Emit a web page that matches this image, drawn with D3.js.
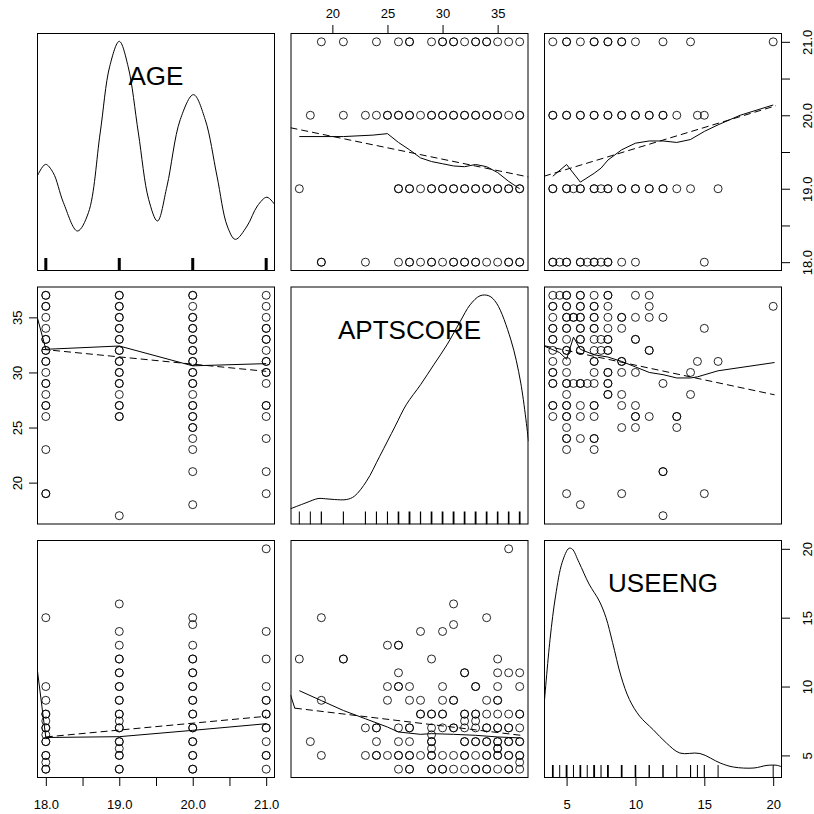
<!DOCTYPE html>
<html>
<head>
<meta charset="utf-8">
<script src="https://cdn.jsdelivr.net/npm/d3@7"></script>
<style>
body { margin: 0; background: #fff; }
text { font-family: "Liberation Sans", Arial, sans-serif; fill: #000; }
</style>
</head>
<body>
<script>
// 1. Data
var varNames = ["AGE", "APTSCORE", "USEENG"];

// [AGE, APTSCORE, count]
var ageApt = [
  [18,19,2],[18,23,1],[18,26,1],[18,27,2],[18,28,1],[18,29,2],[18,30,1],[18,31,2],[18,32,2],[18,33,2],[18,34,1],[18,35,1],[18,36,2],[18,37,2],
  [19,17,1],[19,26,2],[19,27,2],[19,28,1],[19,29,2],[19,30,2],[19,31,2],[19,32,2],[19,33,2],[19,34,2],[19,35,2],[19,36,2],[19,37,2],
  [20,18,1],[20,21,1],[20,23,1],[20,24,1],[20,25,2],[20,26,2],[20,27,2],[20,28,1],[20,29,2],[20,30,2],[20,31,2],[20,32,2],[20,33,2],[20,34,2],[20,35,2],[20,36,1],[20,37,2],
  [21,19,1],[21,21,1],[21,24,1],[21,26,1],[21,27,2],[21,29,1],[21,30,2],[21,31,2],[21,32,1],[21,33,2],[21,34,2],[21,35,1],[21,36,1],[21,37,1]
];

// [AGE, USEENG, count]
var ageUse = [
  [18,4,2],[18,4.5,1],[18,5,2],[18,6,2],[18,6.5,1],[18,7,2],[18,7.5,1],[18,8,2],[18,9,1],[18,10,1],[18,15,1],
  [19,4,2],[19,5,2],[19,5.5,1],[19,6,2],[19,7,2],[19,7.5,1],[19,8,2],[19,9,2],[19,10,2],[19,11,2],[19,12,2],[19,13,1],[19,14,1],[19,16,1],
  [20,4,2],[20,5,2],[20,6,2],[20,7,2],[20,8,2],[20,9,2],[20,10,2],[20,11,2],[20,12,2],[20,13,1],[20,14.5,1],[20,15,1],
  [21,4,1],[21,5,2],[21,6,1],[21,7,2],[21,8,2],[21,9,2],[21,10,1],[21,12,1],[21,14,1],[21,20,1]
];

// [APTSCORE, USEENG, count]
var aptUse = [
  [37,4,1],[37,4.5,1],[37,5,2],[37,6,2],[37,7,1],[37,8,2],[37,10,1],[37,11,1],
  [36,4,2],[36,5,2],[36,6,2],[36,7,2],[36,8,1],[36,11,1],[36,20,1],
  [35,4,1],[35,5,2],[35,5.5,2],[35,6,2],[35,7,2],[35,8,1],[35,9,2],[35,10,1],[35,11,1],[35,12,1],
  [34,4,2],[34,5,2],[34,6,2],[34,7,2],[34,8,1],[34,9,1],[34,15,1],
  [33,4,2],[33,5,1],[33,6,2],[33,7,1],[33,7.5,1],[33,8,2],[33,10,2],
  [32,4,1],[32,5,2],[32,6,2],[32,7,1],[32,7.5,1],[32,8,2],[32,11,2],
  [31,4,1],[31,5,1],[31,7,2],[31,9,2],[31,14.5,1],[31,16,1],
  [30,4,2],[30,5,1],[30,7,1],[30,8,2],[30,9,1],[30,10,1],[30,14,1],
  [29,4,2],[29,5,2],[29,5.5,1],[29,6,2],[29,6.5,1],[29,7,1],[29,8,2],[29,12,1],
  [28,5,1],[28,8,2],[28,9,1],[28,14,1],
  [27,4,2],[27,5,2],[27,6,1],[27,7,2],[27,9,1],[27,10,1],
  [26,4,1],[26,5,2],[26,6,1],[26,7,1],[26,10,2],[26,11,1],[26,13,2],
  [25,5,1],[25,9,1],[25,10,1],[25,13,1],
  [24,5,2],[24,6,1],[24,7,2],
  [23,5,1],[23,7,1],
  [21,12,2],
  [19,5,1],[19,9,1],[19,15,1],
  [18,6,1],
  [17,12,1]
];

// tick values and labels
var ageTicks = [18, 18.5, 19, 19.5, 20, 20.5, 21];
var aptTicks = [20, 25, 30, 35];
var useTicks = [5, 10, 15, 20];

// density curves: [value, relative height in panel]
var ageDens = [[17.873,0.392],[17.995,0.448],[18.1,0.413],[18.24,0.287],[18.43,0.168],[18.58,0.245],[18.74,0.58],[18.87,0.86],[19.0,0.965],[19.12,0.86],[19.26,0.58],[19.4,0.301],[19.52,0.21],[19.65,0.357],[19.83,0.636],[20.01,0.741],[20.17,0.636],[20.33,0.399],[20.47,0.189],[20.58,0.133],[20.74,0.189],[20.88,0.273],[21.01,0.31],[21.13,0.273]];
var aptDens = [[16.19,0.066],[17.6,0.091],[18.7,0.109],[19.4,0.108],[20.2,0.105],[21.3,0.105],[22.0,0.119],[23.1,0.182],[24.3,0.287],[25.7,0.413],[26.7,0.503],[28.0,0.587],[29.2,0.671],[30.4,0.755],[31.6,0.853],[32.5,0.923],[33.4,0.961],[34.2,0.961],[34.9,0.93],[36.2,0.776],[37.1,0.594],[37.8,0.35]];
var useDens = [[3.36,0.302],[3.8,0.583],[4.2,0.765],[4.68,0.906],[5.17,0.965],[5.41,0.962],[5.9,0.906],[6.63,0.815],[7.37,0.744],[7.86,0.674],[8.34,0.569],[8.95,0.428],[9.56,0.33],[10.3,0.26],[11.27,0.204],[12.25,0.147],[13.22,0.105],[14.68,0.103],[16.15,0.063],[17.12,0.046],[18.6,0.042],[19.55,0.053],[20.3,0.053],[20.64,0.046]];

// smoother (solid) and regression (dashed): [x, y]
var smAgeByApt = [[17,19.71],[21,19.71],[23.7,19.73],[25,19.75],[26,19.63],[27,19.53],[28,19.42],[29,19.37],[30,19.34],[31,19.31],[32,19.3],[33,19.33],[34,19.3],[35,19.22],[36,19.1],[37,19.0]];
var rgAgeByApt = [[16.2,19.83],[37.8,19.16]];
var smAgeByUse = [[4,19.17],[5,19.33],[6,19.09],[7,19.21],[7.5,19.28],[8,19.39],[9,19.53],[10,19.62],[11,19.65],[12,19.65],[13,19.63],[14,19.67],[15,19.78],[16,19.87],[17.6,20.0],[20,20.14]];
var rgAgeByUse = [[3.36,19.17],[20.2,20.13]];
var smAptByAge = [[17.88,35.1],[18,32.1],[19,32.4],[20,30.6],[21,30.8]];
var rgAptByAge = [[17.95,32.1],[21,30.1]];
var smAptByUse = [[3.36,32.4],[4.5,31.8],[5,31.2],[5.5,33.2],[6,32.1],[7,31.6],[8,31.4],[9,31.0],[10,30.5],[11,30.0],[12,29.8],[13,29.5],[14,29.5],[14.5,29.6],[16,30.15],[20.1,30.9]];
var rgAptByUse = [[3.36,32.43],[20.1,27.97]];
var smUseByAge = [[17.88,11.4],[18,6.3],[19,6.36],[20,6.82],[21,7.3]];
var rgUseByAge = [[18,6.34],[21,7.84]];
var smUseByApt = [[16.2,9.4],[16.6,8.4],null,[17,9.7],[19,8.98],[21,8.26],[23,7.66],[25,7.06],[26,6.7],[28,6.53],[29,6.58],[31,6.53],[33,6.46],[35,6.34],[37,6.27]];
var rgUseByApt = [[16.6,8.43],[37.1,6.46]];

// 2. Layout
var size = 238, gap = 15.5, padL = 37, padT = 33;
function pos(i) { return i * (size + gap); }

var svg = d3.select("body").append("svg")
  .attr("width", 814)
  .attr("height", 814);

// 3. Scales (R style: range extended by 4%)
function ext(vals) {
  var e = d3.extent(vals), p = (e[1] - e[0]) * 0.04;
  return [e[0] - p, e[1] + p];
}
var varValues = {
  "AGE": ageApt.map(function(d) { return d[0]; }),
  "APTSCORE": ageApt.map(function(d) { return d[1]; }),
  "USEENG": ageUse.map(function(d) { return d[1]; })
};
var xScale = {}, yScale = {};
varNames.forEach(function(v) {
  xScale[v] = d3.scaleLinear().domain(ext(varValues[v])).range([0, size]);
  yScale[v] = d3.scaleLinear().domain(ext(varValues[v])).range([size, 0]);
});
var densScale = d3.scaleLinear().domain([0, 1]).range([size, 0]);

var densities = { "AGE": ageDens, "APTSCORE": aptDens, "USEENG": useDens };
var fits = {
  "AGE|APTSCORE": [smAgeByApt, rgAgeByApt],
  "AGE|USEENG": [smAgeByUse, rgAgeByUse],
  "APTSCORE|AGE": [smAptByAge, rgAptByAge],
  "APTSCORE|USEENG": [smAptByUse, rgAptByUse],
  "USEENG|AGE": [smUseByAge, rgUseByAge],
  "USEENG|APTSCORE": [smUseByApt, rgUseByApt]
};

function swap(arr) { return arr.map(function(d) { return [d[1], d[0], d[2]]; }); }
function pairData(xv, yv) {
  var k = xv + "|" + yv;
  if (k == "AGE|APTSCORE") return ageApt;
  if (k == "APTSCORE|AGE") return swap(ageApt);
  if (k == "AGE|USEENG") return ageUse;
  if (k == "USEENG|AGE") return swap(ageUse);
  if (k == "APTSCORE|USEENG") return aptUse;
  return swap(aptUse);
}
function expand(arr) {
  return arr.flatMap(function(d) { return d3.range(d[2]).map(function() { return d; }); });
}

// rug counts
function countBy(arr, i) {
  return d3.rollups(arr, function(g) { return d3.sum(g, function(d) { return d[2]; }); }, function(d) { return d[i]; });
}
var rugData = {
  "AGE": countBy(ageApt, 0),
  "APTSCORE": countBy(ageApt, 1),
  "USEENG": countBy(ageUse, 1)
};

// 4. Panels
varNames.forEach(function(yv, r) {
  varNames.forEach(function(xv, c) {
    var g = svg.append("g")
      .attr("transform", "translate(" + (padL + pos(c)) + "," + (padT + pos(r)) + ")");
    var clipId = "clip" + r + c;
    g.append("clipPath").attr("id", clipId)
      .append("rect").attr("width", size).attr("height", size);
    var inner = g.append("g").attr("clip-path", "url(#" + clipId + ")");

    if (r == c) {
      // density
      var dl = d3.line().curve(d3.curveCatmullRom)
        .x(function(d) { return xScale[xv](d[0]); })
        .y(function(d) { return densScale(d[1]); });
      inner.append("path").datum(densities[xv])
        .attr("d", dl).attr("fill", "none").attr("stroke", "#000").attr("stroke-width", 1);
      // rug
      inner.selectAll(".rug").data(rugData[xv]).enter().append("line")
        .attr("x1", function(d) { return xScale[xv](d[0]); })
        .attr("x2", function(d) { return xScale[xv](d[0]); })
        .attr("y1", size).attr("y2", size - 13)
        .attr("stroke", "#000")
        .attr("stroke-width", function(d) { return Math.min(3, 1 + (d[1] - 1) * 0.12); });
      // label
      g.append("text")
        .attr("x", size / 2).attr("y", 52)
        .attr("text-anchor", "middle")
        .style("font-size", "26px")
        .text(xv);
    } else {
      var pts = expand(pairData(xv, yv));
      inner.selectAll("circle").data(pts).enter().append("circle")
        .attr("cx", function(d) { return xScale[xv](d[0]); })
        .attr("cy", function(d) { return yScale[yv](d[1]); })
        .attr("r", 4)
        .attr("fill", "none")
        .attr("stroke", "#000")
        .attr("stroke-opacity", 0.85)
        .attr("stroke-width", 1);
      var ln = d3.line().defined(function(d) { return d != null; })
        .x(function(d) { return xScale[xv](d[0]); })
        .y(function(d) { return yScale[yv](d[1]); });
      var f = fits[yv + "|" + xv];
      inner.append("path").datum(f[1]).attr("d", ln)
        .attr("fill", "none").attr("stroke", "#000").attr("stroke-width", 1)
        .attr("stroke-dasharray", "7,4");
      inner.append("path").datum(f[0]).attr("d", ln)
        .attr("fill", "none").attr("stroke", "#000").attr("stroke-width", 1);
    }

    g.append("rect")
      .attr("x", 0.5).attr("y", 0.5)
      .attr("width", size - 1).attr("height", size - 1)
      .attr("fill", "none").attr("stroke", "#000").attr("stroke-width", 1);
  });
});

// 5. Axes
var fmt1 = d3.format(".1f");
function ageFmt(d) { return d % 1 == 0 ? fmt1(d) : ""; }

function styleAxis(sel) {
  sel.select(".domain").remove();
  sel.selectAll("line").attr("stroke", "#000");
  sel.selectAll("text").style("font-size", "13px").attr("fill", "#000");
}

// bottom: AGE, USEENG
svg.append("g")
  .attr("transform", "translate(" + padL + "," + (padT + pos(2) + size) + ")")
  .call(d3.axisBottom(xScale["AGE"]).tickValues(ageTicks).tickFormat(ageFmt).tickSize(8))
  .call(styleAxis)
  .selectAll("text").attr("y", 31).attr("dy", null);
svg.append("g")
  .attr("transform", "translate(" + (padL + pos(2)) + "," + (padT + pos(2) + size) + ")")
  .call(d3.axisBottom(xScale["USEENG"]).tickValues(useTicks).tickSize(8))
  .call(styleAxis)
  .selectAll("text").attr("y", 31).attr("dy", null);
// top: APTSCORE
svg.append("g")
  .attr("transform", "translate(" + (padL + pos(1)) + "," + padT + ")")
  .call(d3.axisTop(xScale["APTSCORE"]).tickValues(aptTicks).tickSize(8))
  .call(styleAxis)
  .selectAll("text").attr("y", -15).attr("dy", null);
// left: APTSCORE
svg.append("g")
  .attr("transform", "translate(" + padL + "," + (padT + pos(1)) + ")")
  .call(d3.axisLeft(yScale["APTSCORE"]).tickValues(aptTicks).tickSize(8))
  .call(styleAxis)
  .selectAll("text")
  .attr("x", null).attr("dy", null)
  .attr("text-anchor", "middle")
  .attr("transform", "translate(-15,0) rotate(-90)");
// right: AGE, USEENG
svg.append("g")
  .attr("transform", "translate(" + (padL + pos(2) + size) + "," + padT + ")")
  .call(d3.axisRight(yScale["AGE"]).tickValues(ageTicks).tickFormat(ageFmt).tickSize(8))
  .call(styleAxis)
  .selectAll("text")
  .attr("x", null).attr("dy", null)
  .attr("text-anchor", "middle")
  .attr("transform", "translate(30,0) rotate(-90)");
svg.append("g")
  .attr("transform", "translate(" + (padL + pos(2) + size) + "," + (padT + pos(2)) + ")")
  .call(d3.axisRight(yScale["USEENG"]).tickValues(useTicks).tickSize(8))
  .call(styleAxis)
  .selectAll("text")
  .attr("x", null).attr("dy", null)
  .attr("text-anchor", "middle")
  .attr("transform", "translate(30,0) rotate(-90)");
</script>
</body>
</html>
